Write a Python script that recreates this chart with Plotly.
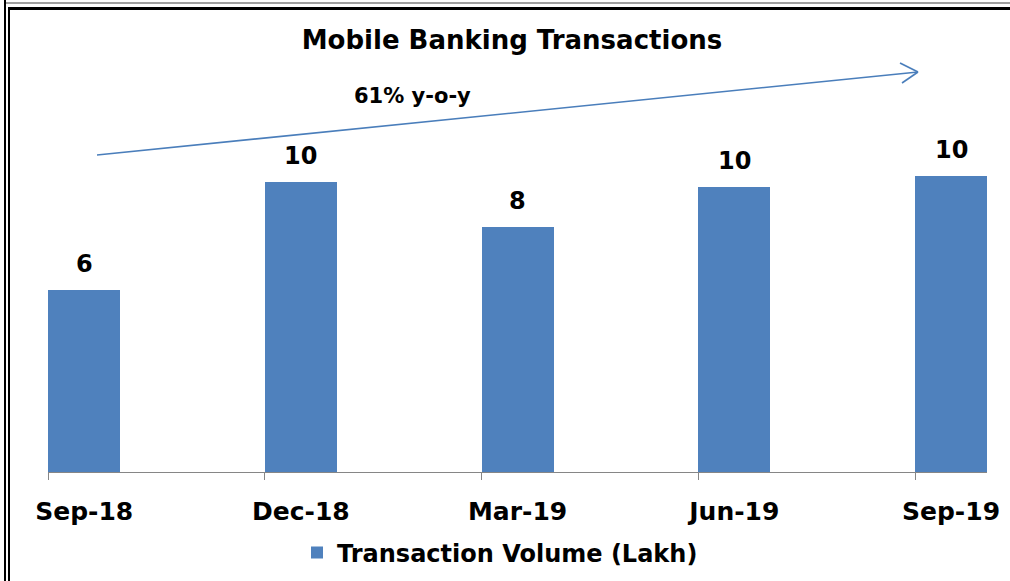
import plotly.graph_objects as go

# ---- data ----
categories = ["Sep-18", "Dec-18", "Mar-19", "Jun-19", "Sep-19"]
volumes = [6.1, 9.7, 8.2, 9.52, 9.9]          # Transaction Volume (Lakh)
series_name = "Transaction Volume (Lakh)"
title_text = "Mobile Banking Transactions"
growth_text = "61% y-o-y"

W, H = 1010, 581
BAR_W = 0.332
FONT = "DejaVu Sans"
BLUE = "#4F81BD"

def px(x):  # pixel -> paper x
    return x / W

def py(y):  # pixel -> paper y
    return 1 - y / H

xpos = list(range(len(categories)))

fig = go.Figure()
fig.add_trace(go.Bar(
    x=xpos, y=volumes, width=BAR_W, name=series_name,
    marker=dict(color=BLUE, line=dict(width=0)),
    showlegend=True,
))

# data labels
for xi, v in zip(xpos, volumes):
    fig.add_annotation(x=xi, y=v, xref="x", yref="y", text=f"{v:.0f}",
                       showarrow=False, yanchor="bottom", yshift=10,
                       font=dict(family=FONT, size=24, color="black", weight="bold"))

# growth label
fig.add_annotation(x=px(412), y=py(96), xref="paper", yref="paper", text=growth_text,
                   showarrow=False, xanchor="center", yanchor="middle",
                   font=dict(family=FONT, size=21, color="black", weight="bold"))

shapes = []
ARROW = "#4A7EBB"
# trend arrow line and open head
shapes.append(dict(type="line", xref="paper", yref="paper",
                   x0=px(97), y0=py(155), x1=px(918), y1=py(72),
                   line=dict(color=ARROW, width=1.6)))
shapes.append(dict(type="line", xref="paper", yref="paper",
                   x0=px(900), y0=py(63), x1=px(918), y1=py(72),
                   line=dict(color=ARROW, width=1.6)))
shapes.append(dict(type="line", xref="paper", yref="paper",
                   x0=px(902), y0=py(83), x1=px(918), y1=py(72),
                   line=dict(color=ARROW, width=1.6)))
# frame
shapes.append(dict(type="line", xref="paper", yref="paper",
                   x0=px(5), y0=py(0), x1=px(5), y1=py(H),
                   line=dict(color="black", width=2)))
shapes.append(dict(type="line", xref="paper", yref="paper",
                   x0=px(9), y0=py(7), x1=px(9), y1=py(H),
                   line=dict(color="black", width=2)))
shapes.append(dict(type="line", xref="paper", yref="paper",
                   x0=px(6), y0=py(3), x1=px(W), y1=py(3),
                   line=dict(color="#A0A0A0", width=2)))
shapes.append(dict(type="line", xref="paper", yref="paper",
                   x0=px(8), y0=py(8.5), x1=px(W), y1=py(8.5),
                   line=dict(color="black", width=3)))

fig.update_layout(
    width=W, height=H,
    margin=dict(l=0, r=0, t=0, b=0, autoexpand=False),
    paper_bgcolor="white", plot_bgcolor="white",
    title=dict(text=title_text, x=px(512), y=py(40), xanchor="center", yanchor="middle",
               font=dict(family=FONT, size=26, color="black", weight="bold")),
    xaxis=dict(
        domain=[px(48), px(987)],
        range=[-BAR_W / 2 - 0.001, len(categories) - 1 + BAR_W / 2],
        tickmode="array", tickvals=xpos, ticktext=categories,
        ticks="outside", ticklen=17, tickcolor="rgba(0,0,0,0)",
        tickfont=dict(family=FONT, size=25, color="black", weight="bold"),
        showline=True, linecolor="#868686", linewidth=1,
        showgrid=False, zeroline=False, automargin=False,
        minor=dict(tickmode="linear", tick0=-BAR_W / 2, dtick=1, ticks="outside",
                   ticklen=7, tickcolor="#868686", tickwidth=1, showgrid=False),
    ),
    yaxis=dict(
        domain=[py(472), py(128)],
        range=[0, 11.5],
        visible=False, showgrid=False, zeroline=False, automargin=False,
    ),
    legend=dict(orientation="h", x=px(500), y=py(553), xanchor="center", yanchor="middle",
                font=dict(family=FONT, size=24, color="black", weight="bold"),
                bgcolor="rgba(0,0,0,0)"),
    shapes=shapes,
    bargap=0,
)

fig.write_html("out.html", config={"displayModeBar": False},
               post_script="document.body.style.margin='0';")
